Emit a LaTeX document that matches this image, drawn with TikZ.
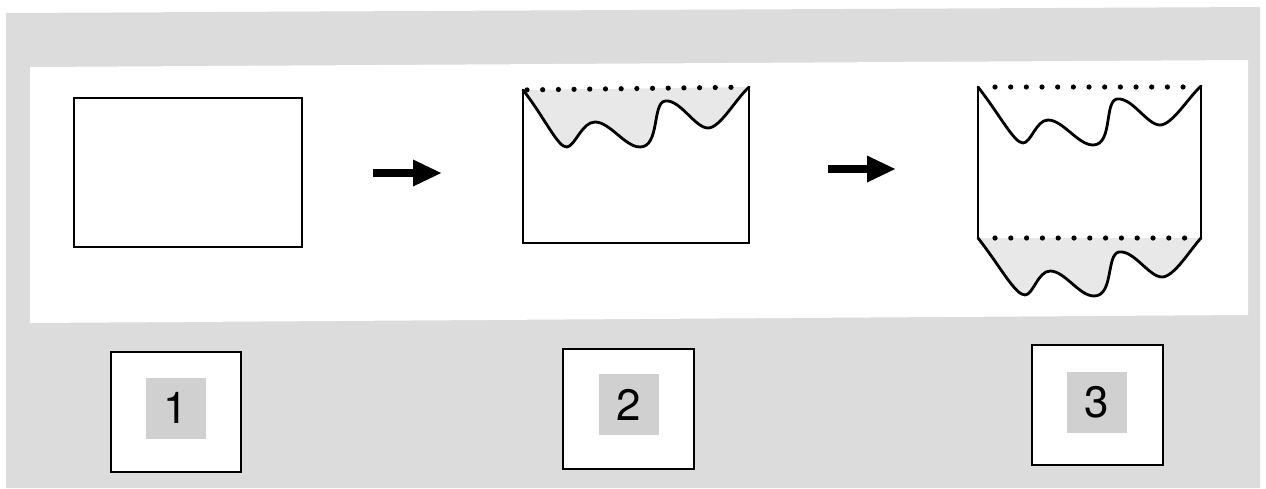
\documentclass[tikz,border=0pt]{standalone}
\usepackage{fontspec}
\setmainfont{TeX Gyre Heros}
\usetikzlibrary{arrows.meta}
\definecolor{bggray}{HTML}{DCDCDC}
\definecolor{numgray}{HTML}{D0D0D0}
\definecolor{wavegray}{HTML}{E8E8E8}
\tikzset{
  px/.style={x=0.02cm,y=-0.02cm},
  framebox/.style={draw=black,line width=1.4pt,fill=white,inner sep=0pt},
  numbox/.style={fill=numgray,inner sep=0pt,minimum width=1.2cm,minimum height=1.22cm,font=\fontsize{25}{29}\selectfont},
  wave/.style={line width=1.6pt,line join=round,line cap=round},
  side/.style={line width=1.4pt,line cap=round},
  dotmark/.style={fill=black,draw=none},
  bigarrow/.style={line width=4.2pt,-{Triangle[length=16.5pt,width=14pt]}}
}
\begin{document}
\begin{tikzpicture}[px]
\useasboundingbox (0,0) rectangle (1266,488);
% background
\fill[white] (0,0) rectangle (1266,488);
\fill[bggray] (6,13) -- (1260,7) -- (1260,488) -- (6,488) -- cycle;
\fill[white] (30,67) -- (1248,60) -- (1248,315) -- (30,323) -- cycle;

% stage 1
\node[framebox,minimum width=4.56cm,minimum height=2.98cm] (r1) at (188,172.5) {};

% arrows
\coordinate (a1s) at (373,173);
\coordinate (a1e) at (442,173);
\coordinate (a2s) at (828,169);
\coordinate (a2e) at (896,169);
\draw[bigarrow] (a1s) -- (a1e);
\draw[bigarrow] (a2s) -- (a2e);

% stage 2
\coordinate (b2tl) at (523,90);
\coordinate (b2tr) at (749,87);
\coordinate (b2bl) at (523,243);
\coordinate (b2br) at (749,243);
\fill[wavegray] (b2tl) .. controls (545,118) and (558,148) .. (567,147)
  .. controls (575,146) and (582,122) .. (595,122)
  .. controls (610,122) and (625,147) .. (640,147)
  .. controls (660,147) and (652,103) .. (665,101)
  .. controls (680,99) and (695,128) .. (708,128)
  .. controls (720,128) and (735,100) .. (b2tr) -- cycle;
\draw[wave] (b2tl) .. controls (545,118) and (558,148) .. (567,147)
  .. controls (575,146) and (582,122) .. (595,122)
  .. controls (610,122) and (625,147) .. (640,147)
  .. controls (660,147) and (652,103) .. (665,101)
  .. controls (680,99) and (695,128) .. (708,128)
  .. controls (720,128) and (735,100) .. (b2tr);
\draw[side] (b2tl) -- (b2bl) -- (b2br) -- (b2tr);
\foreach \i in {0,...,13} {
  \fill[dotmark] ({527+\i*15.69},{89.9-\i*0.2}) circle[radius=2.6];
}

% stage 3
\coordinate (c3tl) at (978,87);
\coordinate (c3tr) at (1201,86);
\coordinate (c3bl) at (978,238);
\coordinate (c3br) at (1201,238);
\draw[wave] (c3tl) .. controls (1000,115) and (1014,143) .. (1023,143)
  .. controls (1031,143) and (1036,120) .. (1048,120)
  .. controls (1063,120) and (1078,145) .. (1093,145)
  .. controls (1113,145) and (1104,101) .. (1117,99)
  .. controls (1132,97) and (1147,125) .. (1160,125)
  .. controls (1172,125) and (1188,98) .. (c3tr);
\fill[wavegray] (c3bl) .. controls (1000,266) and (1015,295) .. (1025,295)
  .. controls (1033,295) and (1038,271) .. (1050,271)
  .. controls (1065,271) and (1079,296) .. (1094,296)
  .. controls (1114,296) and (1106,254) .. (1119,252)
  .. controls (1134,250) and (1149,277) .. (1162,277)
  .. controls (1174,277) and (1190,250) .. (c3br) -- cycle;
\draw[wave] (c3bl) .. controls (1000,266) and (1015,295) .. (1025,295)
  .. controls (1033,295) and (1038,271) .. (1050,271)
  .. controls (1065,271) and (1079,296) .. (1094,296)
  .. controls (1114,296) and (1106,254) .. (1119,252)
  .. controls (1134,250) and (1149,277) .. (1162,277)
  .. controls (1174,277) and (1190,250) .. (c3br);
\draw[side] (c3tl) -- (c3bl);
\draw[side] (c3tr) -- (c3br);
\foreach \i in {0,...,12} {
  \fill[dotmark] ({995+\i*15.67},87) circle[radius=2.6];
  \fill[dotmark] ({995+\i*15.8},238) circle[radius=2.6];
}

% number boxes
\node[framebox,minimum width=2.6cm,minimum height=2.4cm] (k1) at (176,412) {};
\node[numbox] (n1) at (176,408) {1};
\node[framebox,minimum width=2.62cm,minimum height=2.4cm] (k2) at (628.5,409) {};
\node[numbox] (n2) at (629,404.5) {2};
\node[framebox,minimum width=2.62cm,minimum height=2.4cm] (k3) at (1097.5,405) {};
\node[numbox] (n3) at (1097,402.5) {3};
\end{tikzpicture}
\end{document}
